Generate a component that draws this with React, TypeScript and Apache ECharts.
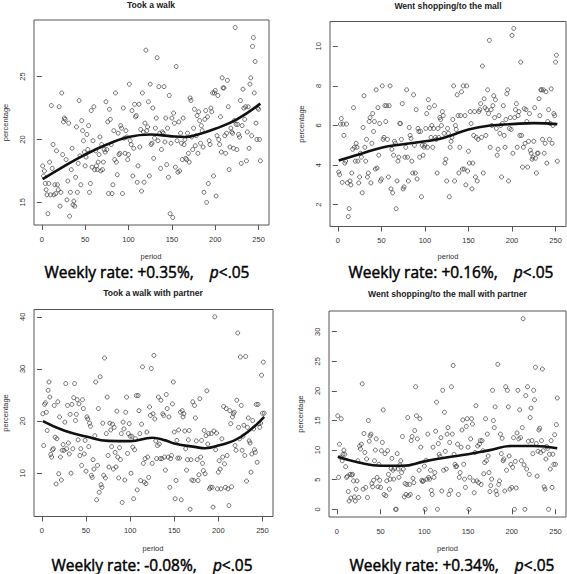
import React, { useEffect, useRef } from "react";
import * as echarts from "echarts";

const W = 567;
const H = 574;

const titles = [
  "Took a walk",
  "Went shopping/to the mall",
  "Took a walk with partner",
  "Went shopping/to the mall with partner",
];
const weeklyRates = ["+0.35%", "+0.16%", "-0.08%", "+0.34%"];
const pLabel = "p<.05";
const xName = "period";
const yName = "percentage";

const xTicks = [0, 50, 100, 150, 200, 250];
const yTicksWalk = [15, 20, 25];
const yTicksShop = [2, 4, 6, 8, 10];
const yTicksWalkPartner = [10, 20, 30, 40];
const yTicksShopPartner = [0, 5, 10, 15, 20, 25, 30];

// weekly percentages, period 1..N
const walkValues = [
  17.9, 17.1, 17.5, 16.5, 16.0, 15.6, 14.1, 16.5, 18.2, 15.6,
  22.7, 17.7, 19.6, 15.6, 16.4, 15.7, 19.1, 16.4, 16.0, 22.6,
  14.7, 15.8, 23.7, 18.8, 21.4, 21.7, 21.6, 18.4, 15.2, 16.7,
  21.3, 13.9, 15.8, 17.6, 19.3, 14.8, 15.1, 14.7, 17.0, 21.0,
  15.8, 18.1, 23.1, 18.7, 16.4, 21.5, 20.7, 19.9, 19.0, 17.9,
  18.6, 20.4,
  19.2, 21.1, 15.8, 16.5, 22.3, 17.8, 19.9, 22.6, 17.6, 19.1,
  17.9, 17.6, 18.2, 18.8, 20.2, 17.5, 19.6, 17.6, 18.2, 19.2,
  19.0, 23.0, 19.2, 21.4, 15.7, 22.4, 21.6, 19.6, 15.7, 16.4,
  20.7, 18.4, 23.7, 18.2, 17.2, 20.5, 18.8, 18.9, 21.1, 20.9,
  15.7, 22.5, 20.1, 18.9, 20.7, 20.2, 18.4, 18.8, 24.4, 19.9,
  19.6, 22.3, 17.1, 19.3, 22.8, 21.8, 21.9, 16.6, 17.9, 22.8,
  19.4, 20.8,
  15.9, 23.7, 20.6, 16.6, 21.3, 27.1, 20.7, 21.0, 23.0, 17.1,
  24.4, 19.6, 19.7, 22.5, 18.5, 20.1, 20.9, 21.7, 26.5, 19.9,
  24.2, 20.5, 17.7, 19.2, 20.6, 20.5, 24.2, 19.8, 21.7, 18.0,
  20.9,
  17.0, 23.5, 14.1, 19.7, 21.7, 13.8, 22.1, 21.3, 17.8, 25.8,
  19.9, 17.4, 21.4, 17.5, 20.5, 19.7, 18.4, 21.7, 19.6, 20.0,
  18.5, 18.4, 20.5, 18.9, 18.2, 23.3, 23.1, 20.2, 19.2, 20.9,
  22.4, 19.5, 20.3, 21.9, 18.9, 22.2, 21.5, 19.7, 21.1, 20.7,
  19.4, 15.8, 21.6, 22.3, 15.0, 21.8, 16.5, 19.9, 19.6, 22.5,
  22.2, 23.7, 17.1, 23.7, 23.9, 15.5, 20.3, 23.5, 20.0, 19.6,
  21.8,
  19.0, 24.9, 24.1, 24.1, 20.3, 18.9, 20.5, 24.7, 22.6, 17.6,
  19.4, 20.9, 20.6, 20.5, 19.3, 21.5, 28.9, 21.2, 19.2, 21.2,
  20.4, 20.2, 23.1, 18.1, 21.1, 24.0, 22.5, 21.6, 22.6, 18.3,
  20.6, 22.6, 19.3, 24.4, 24.9, 20.3, 27.4, 28.1, 23.7, 26.2,
  21.3, 20.0, 22.5, 22.4, 20.0, 18.3,
];

const shopValues = [
  3.65, 3.52, 6.07, 6.35, 3.13, 6.07, 5.5, 4.1, 4.2, 6.07,
  3.1, 1.4, 1.8, 3.2, 3.0, 3.6, 4.8, 6.9, 4.9, 4.2,
  5.1, 4.9, 4.2, 3.1, 3.4, 4.6, 4.4, 2.6, 5.9, 7.5,
  4.9, 4.2, 5.3, 3.4, 3.6, 6.2, 6.4, 3.1, 5.1, 6.6,
  5.7, 6.2, 3.8, 7.8, 3.85, 6.9, 4.5, 6.1, 3.2, 3.3,
  8.0, 5.3, 5.4, 7.0, 6.2, 7.0, 5.3, 3.4, 7.0, 8.0,
  2.8, 4.8, 2.6, 4.5, 5.2, 5.1, 1.8, 3.2, 4.2, 4.4,
  6.1, 6.1, 5.3, 7.1, 2.8, 2.9, 4.4, 4.9, 7.8, 4.4,
  3.2, 5.9, 5.5, 5.35, 4.2, 3.6, 7.55, 5.0, 3.6, 6.8,
  3.3, 5.85, 5.7, 4.4, 5.7, 2.4, 5.0, 4.5, 4.9, 5.0,
  5.85, 6.6, 4.9, 7.3, 6.9, 5.85, 5.4, 6.0, 4.9, 5.85,
  7.0, 5.4, 5.3, 3.6, 5.85, 5.4, 6.4, 6.3, 6.0, 6.7,
  6.5, 5.6, 4.1, 4.3, 3.2, 5.85, 5.6, 2.4, 4.9, 5.2,
  5.4, 6.3, 8.0, 3.2, 6.0, 5.8, 7.55, 6.5, 3.6, 4.9,
  6.5, 7.7, 3.8, 8.0, 3.8, 6.5, 3.0, 8.0, 3.7, 4.7,
  4.1, 6.7, 6.1, 2.8, 4.1, 5.5, 6.7, 3.4, 5.4, 3.2,
  5.3, 6.7, 6.8, 7.1, 5.4, 9.0, 3.6, 7.35, 6.9, 5.5,
  6.8, 7.8, 6.6, 10.3, 4.9, 6.8, 6.0, 7.0, 7.5, 6.4,
  7.3, 5.85, 4.5, 4.8, 6.5, 5.6, 6.0, 3.4, 6.1, 7.0,
  5.5, 4.9, 6.3, 7.6, 7.8, 3.2, 5.85, 6.4, 5.8, 10.55,
  4.6, 10.9, 6.4, 6.8, 7.1, 4.9, 6.5, 6.7, 5.5, 9.2,
  5.5, 3.9, 4.9, 6.85, 5.1, 6.8, 6.2, 3.9, 5.2, 6.6,
  4.75, 4.6, 4.3, 4.4, 5.2, 6.9, 4.35, 3.6, 4.6, 4.6,
  7.35, 6.5, 7.8, 7.8, 5.3, 7.8, 4.6, 5.1, 7.7, 4.1,
  6.2, 6.8, 5.3, 6.1, 7.85, 5.1, 6.0, 6.6, 6.5, 9.2, 9.55, 4.2,
];

const walkPartnerValues = [
  21.4, 15.3, 23.2, 23.5, 21.7, 18.2, 25.9, 27.5, 24.6, 13.6,
  13.1, 14.5, 14.7, 23.0, 16.9, 7.95, 16.6, 23.7, 9.9, 20.8,
  13.1, 8.7, 14.4, 15.5, 14.4, 19.8, 27.2, 14.7, 23.0, 15.8,
  13.7, 21.3, 10.0, 23.2, 14.7, 24.5, 27.2, 20.1, 21.3, 24.1,
  16.4, 23.3, 13.4, 14.7, 11.5, 24.1, 22.4, 13.7, 16.3, 10.4,
  20.8, 20.4, 15.1, 19.6, 19.0, 9.6, 9.2, 12.6, 10.8, 17.2,
  27.5, 4.9, 11.5, 22.4, 6.35, 28.5, 7.8, 7.3, 19.6, 9.6,
  32.1, 9.1, 17.6, 24.6, 13.4, 11.2, 19.6, 18.3, 15.1, 19.4,
  10.8, 18.8, 14.0, 11.2, 21.9, 13.1, 9.1, 14.9, 12.6, 17.6,
  4.4, 19.8, 18.5, 8.7, 21.7, 24.6, 13.8, 17.6, 19.5, 17.1,
  10.0, 17.1, 15.0, 5.1, 14.5, 16.6, 24.9, 6.8, 24.9, 22.0,
  17.6, 8.6, 19.4, 30.4, 11.9, 8.3, 12.8, 8.0, 17.9, 13.1,
  9.2, 22.7, 21.1, 30.1, 11.9, 21.4, 32.6, 20.4, 16.2, 12.8,
  15.3, 24.6, 15.6, 12.8, 24.0, 12.8, 21.4, 21.1, 13.1, 10.6,
  25.1, 22.4, 13.1, 20.8, 7.3, 12.8, 13.4, 23.3, 27.5, 17.9,
  5.1, 8.6, 16.3, 12.9, 18.3, 12.9, 21.7, 4.9, 22.0, 20.8,
  21.4, 18.1, 14.7, 10.6, 12.6, 16.4, 18.2, 3.1, 12.6, 8.7,
  23.7, 8.6, 23.0, 20.6, 16.2, 12.6, 8.6, 9.7, 24.3, 13.1,
  16.3, 11.9, 10.5, 18.2, 9.9, 17.2, 25.8, 15.6, 17.6, 7.0,
  7.3, 17.6, 7.3, 3.5, 18.1, 40.0, 14.5, 17.7, 7.0, 10.2,
  12.4, 10.8, 7.0, 16.6, 13.1, 22.8, 11.8, 7.3, 22.4, 13.4,
  7.0, 3.8, 22.0, 19.5, 7.4, 20.8, 21.4, 21.7, 15.3, 14.4,
  24.0, 36.9, 18.8, 16.6, 32.3, 23.0, 14.4, 17.1, 19.2, 13.4,
  32.4, 8.5, 18.8, 20.6, 16.2, 15.8, 10.2, 13.7, 20.1, 18.5,
  14.5, 14.0, 23.2, 12.1, 23.2, 19.5, 18.8, 19.6, 28.8, 21.5, 31.3, 21.5,
];

const shopPartnerValues = [
  15.8, 5.4, 11.0, 8.8, 15.3, 8.2, 9.3, 10.0, 9.3, 7.2,
  5.4, 5.6, 3.0, 1.4, 5.9, 1.9, 5.8, 5.9, 4.8, 2.1,
  1.4, 3.4, 4.8, 8.2, 2.0, 10.7, 10.2, 11.0, 21.2, 3.4,
  12.8, 9.6, 3.7, 8.5, 2.0, 15.0, 11.5, 12.4, 12.7, 4.35,
  3.8, 4.9, 8.2, 10.0, 11.9, 5.4, 3.8, 7.6, 4.9, 3.7,
  9.9, 11.3, 16.8, 2.5, 9.4, 2.3, 4.8, 9.9, 5.9, 3.4,
  5.1, 6.9, 8.6, 6.6, 5.1, 6.9, 0.0, 0.0, 9.4, 6.8,
  5.4, 7.5, 8.2, 6.2, 12.3, 6.8, 2.1, 4.35, 2.5, 4.2,
  15.5, 2.3, 4.2, 2.5, 11.6, 12.3, 5.25, 4.5, 13.3, 20.7,
  15.8, 11.9, 2.0, 6.6, 15.3, 10.5, 4.9, 4.7, 4.8, 7.3,
  0.0, 8.3, 5.1, 12.7, 5.4, 5.1, 6.6, 3.2, 2.5, 10.5,
  5.4, 6.2, 13.2, 18.1, 0.0, 11.1, 9.3, 8.9, 12.1, 3.1,
  20.1, 6.6, 16.4, 9.8, 6.8, 12.7, 13.8, 2.5, 11.3, 3.2,
  20.7, 12.7, 24.3, 9.3, 7.6, 7.2, 7.3, 11.0, 2.5, 5.4,
  6.2, 10.5, 13.4, 15.1, 7.6, 5.1, 3.7, 14.0, 15.3, 10.5,
  0.0, 5.4, 11.9, 15.3, 14.4, 4.8, 2.8, 9.6, 17.5, 4.8,
  10.7, 4.5, 11.0, 11.6, 4.2, 11.6, 9.9, 6.0, 7.9, 15.3,
  8.2, 12.7, 9.0, 6.2, 3.0, 4.0, 5.1, 20.1, 15.0, 13.8,
  17.3, 3.1, 2.5, 24.5, 4.2, 4.8, 12.7, 9.4, 12.0, 8.2,
  8.5, 3.1, 20.7, 6.6, 20.1, 17.3, 9.0, 3.4, 7.6, 3.7,
  7.1, 12.1, 0.0, 8.1, 3.6, 12.9, 20.1, 11.9, 16.8, 12.1,
  8.2, 13.8, 32.2, 7.5, 0.0, 19.2, 6.8, 20.7, 11.5, 5.9,
  15.5, 17.1, 11.6, 9.4, 20.1, 18.5, 24.0, 11.1, 5.6, 9.8,
  13.4, 13.7, 9.6, 11.6, 23.7, 9.9, 3.8, 3.4, 8.5, 10.6,
  10.3, 0.0, 9.3, 6.8, 11.6, 3.7, 9.3, 7.6, 12.6, 7.6, 14.3, 18.8,
];

// smoothed (loess) curves
const walkSmoothPeriods = [1, 25, 50, 75, 100, 125, 150, 165, 180, 200, 225, 252];
const walkSmoothValues = [16.85, 17.85, 18.8, 19.6, 20.2, 20.4, 20.25, 20.2, 20.4, 20.85, 21.6, 22.85];
const shopSmoothPeriods = [1, 25, 50, 75, 100, 115, 130, 150, 175, 200, 225, 252];
const shopSmoothValues = [4.23, 4.55, 4.88, 5.05, 5.2, 5.3, 5.5, 5.8, 6.0, 6.07, 6.12, 6.07];
const walkPartnerSmoothPeriods = [1, 25, 50, 75, 100, 125, 140, 150, 175, 185, 200, 225, 252];
const walkPartnerSmoothValues = [20.0, 18.2, 17.05, 16.2, 16.15, 16.8, 16.3, 15.7, 15.0, 14.8, 15.3, 16.9, 20.8];
const shopPartnerSmoothPeriods = [1, 25, 50, 75, 100, 125, 150, 175, 200, 225, 252];
const shopPartnerSmoothValues = [8.87, 7.9, 7.35, 7.35, 8.1, 8.75, 9.3, 10.0, 10.7, 10.7, 10.3];

const panels = [
  { box: [33, 20, 236, 205], y: [13.2, 29.5], yTicks: yTicksWalk, values: walkValues, sp: walkSmoothPeriods, sv: walkSmoothValues, titleY: 4.5, nameY: 256.7, capX: 147, capY: 271.5 },
  { box: [330, 21.5, 236, 205], y: [0.9, 11.25], yTicks: yTicksShop, values: shopValues, sp: shopSmoothPeriods, sv: shopSmoothValues, titleY: 5.5, nameY: 256.7, capX: 451, capY: 271.5 },
  { box: [33, 309.5, 240, 207], y: [1.7, 41.4], yTicks: yTicksWalkPartner, values: walkPartnerValues, sp: walkPartnerSmoothPeriods, sv: walkPartnerSmoothValues, titleY: 293, nameY: 548, capX: 152, capY: 564.5 },
  { box: [329, 311, 237, 206], y: [-1.3, 33.5], yTicks: yTicksShopPartner, values: shopPartnerValues, sp: shopPartnerSmoothPeriods, sv: shopPartnerSmoothValues, titleY: 294, nameY: 548, capX: 452, capY: 564.5 },
];

const axisFont = "'Liberation Sans', Arial, sans-serif";
const captionFont = "'Open Sans', 'Noto Sans', sans-serif";
const tickColor = "#555";
const labelColor = "#333";

export default function App() {
  const ref = useRef<HTMLDivElement>(null);

  useEffect(() => {
    if (!ref.current) return;
    const chart = echarts.init(ref.current, null, { renderer: "svg", width: W, height: H });

    const grid = panels.map((p) => ({
      left: p.box[0],
      top: p.box[1],
      width: p.box[2],
      height: p.box[3],
      show: true,
      borderColor: "#555",
      borderWidth: 1,
      backgroundColor: "transparent",
    }));

    const xAxis = panels.map((p, i) => ({
      type: "value",
      gridIndex: i,
      min: -9,
      max: 262,
      axisLine: { show: false },
      axisTick: { show: true, inside: false, length: 5, customValues: xTicks, lineStyle: { color: tickColor, width: 1 } },
      axisLabel: { customValues: xTicks, margin: 10, fontSize: 7.5, color: labelColor, fontFamily: axisFont },
      splitLine: { show: false },
    }));

    const yAxis = panels.map((p, i) => ({
      type: "value",
      gridIndex: i,
      min: p.y[0],
      max: p.y[1],
      name: yName,
      nameLocation: "middle",
      nameGap: 25,
      nameRotate: 90,
      nameTextStyle: { fontSize: 7.5, color: labelColor, fontFamily: axisFont },
      axisLine: { show: false },
      axisTick: { show: true, inside: false, length: 5, customValues: p.yTicks, lineStyle: { color: tickColor, width: 1 } },
      axisLabel: { customValues: p.yTicks, rotate: 90, margin: 8, fontSize: 7.5, color: labelColor, fontFamily: axisFont },
      splitLine: { show: false },
    }));

    const series: any[] = [];
    panels.forEach((p, i) => {
      series.push({
        type: "scatter",
        xAxisIndex: i,
        yAxisIndex: i,
        data: p.values.map((v, k) => [k + 1, v]),
        symbol: "circle",
        symbolSize: 4,
        silent: true,
        itemStyle: { color: "rgba(0,0,0,0)", borderColor: "#3a3a3a", borderWidth: 0.9 },
        z: 2,
      });
      series.push({
        type: "line",
        xAxisIndex: i,
        yAxisIndex: i,
        data: p.sp.map((x, k) => [x, p.sv[k]]),
        smooth: 0.45,
        showSymbol: false,
        silent: true,
        lineStyle: { color: "#111", width: 2.6 },
        z: 3,
      });
    });

    const graphic: any[] = [];
    panels.forEach((p, i) => {
      graphic.push({
        type: "text",
        x: p.box[0] + p.box[2] / 2,
        y: p.titleY,
        silent: true,
        style: {
          text: titles[i],
          fill: "#222",
          fontSize: 8.6,
          fontWeight: "bold",
          fontFamily: axisFont,
          align: "center",
          verticalAlign: "middle",
        },
      });
      graphic.push({
        type: "text",
        x: p.box[0] + p.box[2] / 2,
        y: p.nameY,
        silent: true,
        style: {
          text: xName,
          fill: labelColor,
          fontSize: 7.5,
          fontFamily: axisFont,
          align: "center",
          verticalAlign: "middle",
        },
      });
      graphic.push({
        type: "text",
        x: p.capX,
        y: p.capY,
        silent: true,
        style: {
          text: "Weekly rate: " + weeklyRates[i] + ",    {i|" + pLabel.slice(0, 1) + "}" + pLabel.slice(1),
          fill: "#000",
          stroke: "#000",
          lineWidth: 0.45,
          fontSize: 15.5,
          fontWeight: "normal",
          fontFamily: captionFont,
          align: "center",
          verticalAlign: "middle",
          rich: {
            i: {
              fontStyle: "italic",
              fontSize: 15.5,
              fontWeight: "normal",
              fontFamily: captionFont,
              fill: "#000",
              stroke: "#000",
              lineWidth: 0.45,
            },
          },
        },
      });
    });

    chart.setOption({
      animation: false,
      backgroundColor: "#fff",
      grid,
      xAxis,
      yAxis,
      series,
      graphic,
    });

    return () => chart.dispose();
  }, []);

  return (
    <div
      ref={ref}
      style={{ position: "absolute", left: 0, top: 0, width: W, height: H, background: "#fff" }}
    />
  );
}
